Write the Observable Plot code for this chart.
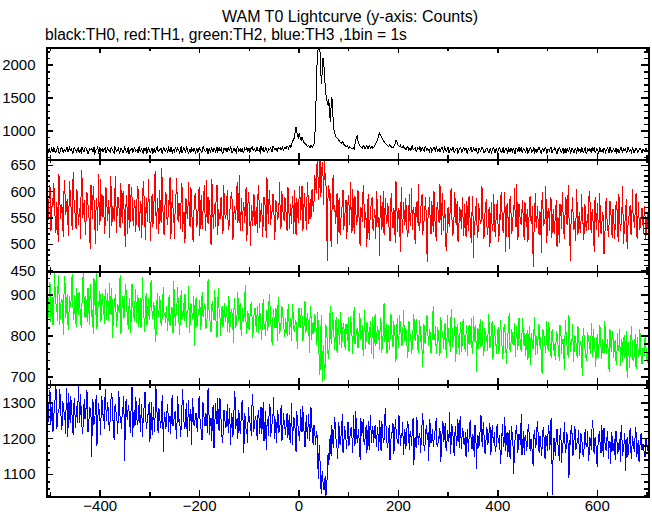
<!DOCTYPE html>
<html><head><meta charset="utf-8">
<script src="https://cdn.jsdelivr.net/npm/d3@7"></script>
<script src="https://cdn.jsdelivr.net/npm/@observablehq/plot@0.6"></script>
<style>
body{margin:0;background:#fff;color:#000;}
#chart{position:relative;width:652px;height:515px;font-family:"Liberation Sans",Arial,sans-serif;overflow:hidden;}
.ttl{position:absolute;white-space:nowrap;line-height:16px;}
.panel{position:absolute;left:0;}
</style></head><body>
<div id="chart">
<div class="ttl" style="left:0;width:700px;text-align:center;top:9px;font-size:16px;">WAM T0 Lightcurve (y-axis: Counts)</div>
<div class="ttl" style="left:45px;top:27px;font-size:15.6px;">black:TH0, red:TH1, green:TH2, blue:TH3 ,1bin = 1s</div>
</div>
<script>
// time bins (s): first bin and spacing of the sampled values; "Mid" arrays sit half a step later
const tStart = -507, binStep = 3;
const xDomain = [-508, 703];
const xMajor = [-400, -200, 0, 200, 400, 600];
const xMinor = [-500, -300, -100, 100, 300, 500, 700];

// TH0 (black)
const th0 = [
728,671,702,754,683,719,690,763,665,712,741,677,706,733,688,769,701,659,737,714,
681,748,709,662,725,694,757,711,673,730,744,687,651,716,766,698,679,735,704,750,
668,721,693,759,708,660,739,700,747,684,718,671,764,697,729,655,712,745,686,736,
703,667,761,715,680,742,706,664,752,695,727,658,738,710,771,684,720,669,746,707,
733,676,699,755,661,721,748,689,713,666,767,702,731,678,740,657,717,753,692,734,
709,670,749,722,681,760,701,728,654,743,711,685,739,672,758,716,693,747,663,726,
744,688,712,768,674,732,705,659,751,718,690,740,677,723,757,699,668,745,713,735,
684,750,707,662,729,759,696,737,673,720,747,691,765,724,703,754,730,711,762,739,
745,772,728,786,790,860,905,1060,930,965,880,905,840,815,790,772,760,785,755,800,
1120,1980,2300,2240,1720,2110,1900,1560,1430,1480,1150,1510,1050,965,905,880,850,825,840,800,
785,770,748,762,735,742,720,870,935,810,775,752,790,730,765,745,778,740,770,752,
795,830,905,975,920,885,840,812,790,768,795,760,748,785,862,810,772,790,745,778,
748,716,765,733,702,779,725,751,694,740,770,712,738,689,761,727,700,755,678,731,
721,763,690,742,709,752,673,730,698,759,684,719,747,667,715,738,693,754,676,726,
705,744,663,717,737,682,750,695,724,660,733,708,758,671,702,741,686,728,668,747,
694,722,657,739,706,677,753,699,731,664,715,744,680,726,661,737,703,683,760,691,
719,670,735,697,746,674,712,656,731,701,751,672,721,688,742,665,727,699,757,679,
713,738,662,704,729,681,748,696,669,734,710,655,741,690,724,666,754,702,675,730,
697,745,663,716,736,678,706,759,684,725,658,740,700,671,730,709,750,668,723,687,
739,694,660,727,705,753,673,718,734,682,746,701,664,725,693,743,677,720,736,670,
712,688,731,699];
const th0Mid = [
695,742,668,721,757,679,710,733,662,748,700,726,684,761,692,715,739,670,754,703,
731,676,719,763,689,745,706,660,737,712,685,758,698,727,666,749,718,690,741,674,
752,708,680,734,697,766,687,723,661,744,714,691,736,671,759,704,729,678,747,693,
725,750,686,738,663,712,756,694,731,679,745,707,667,753,699,720,740,657,734,689,
716,762,683,741,706,672,730,751,697,722,674,746,710,764,688,727,679,705,743,665,
736,698,726,675,752,710,687,741,719,668,757,695,732,704,681,748,722,660,739,709,
686,754,699,728,671,745,716,762,690,733,705,678,750,712,694,740,727,765,701,719,
748,695,733,771,714,688,752,706,740,727,699,768,716,741,685,729,758,736,710,753,
730,761,777,752,835,880,1010,980,890,920,860,870,825,798,765,788,748,770,782,880,
1560,2180,2290,1950,1880,2050,1700,1480,1390,1250,1380,1420,1010,930,890,865,835,810,828,790,
760,775,740,752,728,758,800,905,850,790,760,740,772,748,780,735,758,762,738,770,
812,868,940,952,900,860,825,805,775,782,770,752,768,820,845,790,765,752,770,740,
731,760,702,745,772,716,739,690,757,725,698,748,719,767,706,733,681,744,728,762,
697,737,714,681,750,722,764,703,729,671,740,708,756,694,733,665,721,747,689,754,
725,679,739,702,758,687,716,743,664,731,697,752,710,683,745,719,676,738,706,759,
673,734,711,750,688,727,665,741,703,755,684,720,736,669,747,693,757,714,678,739,
700,745,661,718,733,690,757,707,676,742,718,663,738,709,754,681,716,740,672,729,
749,684,723,758,697,712,666,738,725,686,751,703,734,671,744,716,688,731,752,680,
726,660,741,703,689,752,718,677,735,696,748,683,721,743,668,731,700,756,679,714,
686,747,722,668,736,697,742,710,675,751,689,729,754,673,718,736,684,745,702,726,
691,738,706,720];

// TH1 (red)
const th1 = [
585,548,612,530,571,598,522,560,634,549,577,515,603,566,541,620,579,528,591,556,
604,537,569,640,551,583,519,597,562,492,575,610,544,588,526,566,623,553,580,539,
596,561,513,607,572,545,629,558,586,531,570,601,548,579,520,615,563,590,536,574,
555,611,527,582,568,596,509,563,624,547,578,533,600,559,587,521,571,644,552,566,
592,538,575,512,603,557,581,626,543,569,598,524,561,587,549,617,533,576,506,590,
562,545,608,573,529,586,553,622,540,571,500,594,558,535,613,567,548,589,521,576,
553,603,532,570,595,518,562,584,541,631,556,527,579,566,507,599,547,574,536,592,
560,523,611,549,578,541,587,514,569,602,538,563,591,528,575,551,618,534,567,545,
582,526,598,557,539,574,603,518,566,589,547,610,535,572,528,596,561,548,605,577,
620,650,585,672,606,640,668,625,470,612,596,548,630,575,561,502,588,543,574,529,
566,511,593,537,552,604,520,571,545,586,498,559,612,533,548,577,509,566,590,527,
555,601,538,480,572,546,519,588,543,564,506,597,531,558,620,524,569,487,551,580,
537,562,515,594,549,528,571,502,556,613,533,575,519,547,590,468,561,538,582,524,
553,508,579,541,564,597,526,550,489,571,535,606,518,558,544,582,505,567,531,548,
576,514,552,592,529,563,476,545,588,521,557,539,603,511,566,534,550,496,579,527,
560,541,584,506,548,571,523,598,535,553,492,575,529,561,544,614,517,556,538,583,
510,549,566,527,591,540,458,563,532,572,518,555,599,536,549,503,568,527,585,542,
521,559,495,547,576,530,563,511,589,538,553,470,566,528,545,604,519,561,535,550,
509,572,541,528,595,522,556,487,549,578,516,562,537,553,500,588,531,546,570,513,
558,534,581,505,552,540,610,524,563,492,547,575,519,556,533,598,511,548,537,569,
521,554,540,530];
const th1Mid = [
551,603,527,588,615,540,579,506,596,563,534,621,557,586,518,600,545,637,566,529,
590,555,511,626,568,543,599,575,530,613,549,587,502,570,632,537,562,594,520,608,
545,583,628,536,566,601,523,590,556,616,542,574,497,593,561,533,609,549,584,525,
598,539,572,514,620,553,587,544,578,507,595,562,638,531,567,602,541,575,518,599,
546,583,627,537,569,511,594,552,578,530,616,559,503,585,568,540,609,525,561,596,
534,578,517,593,556,612,527,570,589,548,624,531,575,602,519,556,586,540,611,550,
583,528,566,598,509,573,547,617,560,526,588,569,541,608,551,580,498,563,594,536,
571,597,532,566,515,590,555,627,539,578,561,596,510,583,547,572,530,601,556,589,
544,609,531,576,592,520,565,588,541,610,574,526,596,553,617,540,585,602,563,631,
598,666,612,590,655,575,630,548,605,584,495,621,562,540,598,576,519,565,603,548,
584,549,575,617,522,563,591,537,603,512,570,544,586,560,497,595,541,578,531,567,
512,574,552,593,529,601,560,539,578,520,583,546,569,503,590,556,537,608,523,561,
588,521,554,536,606,563,515,580,541,527,569,596,542,575,508,553,589,520,559,601,
531,570,545,614,519,558,583,496,562,540,587,552,521,598,537,507,571,549,590,516,
547,582,527,560,503,591,538,566,514,578,542,610,530,555,585,518,571,544,529,594,
515,569,532,557,599,528,564,487,578,546,591,521,553,606,534,509,576,543,567,524,
581,534,506,588,545,572,517,596,551,527,563,485,574,542,611,526,558,590,514,566,
539,583,552,504,567,598,526,574,541,612,518,562,589,531,507,576,548,523,594,538,
575,527,556,601,537,566,513,590,529,545,597,521,560,483,572,549,515,582,536,567,
511,573,548,595,526,563,502,541,586,534,559,520,604,545,571,516,580,529,561,543,
573,512,559,538];

// TH2 (green)
const th2 = [
902,845,931,868,826,955,879,838,912,857,890,803,944,866,829,897,872,950,841,884,
915,852,876,821,938,863,897,834,870,925,848,805,889,957,859,877,836,904,868,913,
841,882,929,852,796,874,901,838,866,947,822,889,857,911,843,873,808,926,861,885,
834,900,866,819,943,848,877,825,892,859,936,841,870,787,904,853,882,829,918,856,
873,814,898,845,867,932,826,859,881,803,911,850,838,889,862,920,831,871,845,776,
894,836,858,815,907,847,872,826,939,851,809,883,838,861,797,915,844,866,823,878,
851,812,896,836,859,784,873,828,905,845,818,867,834,922,806,853,839,881,797,862,
830,871,808,845,792,889,826,851,813,902,838,779,864,820,847,895,806,833,858,815,
842,801,876,823,790,857,812,834,769,868,821,848,796,884,815,839,761,853,827,805,
842,778,816,705,850,760,693,828,790,745,872,801,823,768,846,812,779,857,794,830,
766,812,845,781,827,757,869,795,818,774,840,803,752,861,788,821,779,836,800,746,
854,791,813,768,833,786,880,802,759,825,794,847,773,810,738,842,797,819,776,862,
785,811,748,830,796,772,853,789,814,760,837,801,726,824,793,846,777,808,768,873,
796,757,822,781,845,804,770,831,748,812,789,866,775,801,739,828,793,815,762,840,
781,808,753,826,791,769,847,786,714,819,798,774,835,760,803,788,852,771,811,745,
826,779,801,757,838,784,766,815,733,797,856,772,808,788,749,823,780,805,763,842,
776,752,814,789,731,806,770,845,782,757,822,796,709,811,773,836,764,790,748,817,
781,742,805,769,827,758,793,718,812,775,850,763,788,737,801,770,824,752,786,704,
809,765,740,797,772,831,750,783,726,804,761,818,745,779,835,757,792,713,777,810,
748,789,731,771,815,756,738,802,764,699,785,751,823,740,774,719,796,758,781,733,
769,797,745,760];
const th2Mid = [
861,917,835,893,852,908,874,947,829,885,862,923,846,901,815,879,934,857,898,823,
874,907,838,883,954,846,871,916,829,892,861,940,853,818,884,909,842,877,831,896,
903,837,868,915,848,889,824,877,858,806,897,843,926,864,819,891,848,875,838,913,
863,822,891,848,874,812,903,857,839,926,846,881,810,868,847,895,826,877,852,833,
842,889,825,869,807,884,852,919,833,864,840,878,901,823,857,809,879,842,896,861,
822,865,887,832,851,880,818,853,868,829,876,849,912,826,883,845,801,871,852,834,
873,838,809,865,842,891,820,856,837,879,802,852,891,826,860,814,874,845,829,868,
812,848,880,817,856,829,801,864,834,876,809,845,823,868,789,840,818,872,836,799,
829,861,804,842,877,816,838,795,851,823,866,788,839,809,856,826,873,791,834,852,
812,858,740,798,689,776,727,805,752,836,781,858,796,831,760,841,805,772,823,787,
829,789,763,848,802,835,780,813,771,856,792,825,804,769,834,797,818,758,845,810,
777,823,798,842,760,809,787,828,811,768,853,782,836,795,820,772,849,803,789,818,
819,768,836,802,757,821,795,840,773,808,786,763,829,780,851,799,816,758,834,791,
823,779,803,752,833,797,819,768,851,785,762,827,798,843,771,806,754,832,788,811,
762,825,796,778,842,757,810,826,793,770,841,787,753,818,799,764,828,792,836,779,
794,758,820,787,811,746,829,797,772,839,761,815,779,830,797,766,843,771,807,785,
806,785,741,824,793,769,812,754,798,829,777,742,816,790,760,801,833,779,811,765,
756,812,783,739,820,791,760,837,779,748,804,782,829,766,795,747,810,784,741,818,
772,743,809,783,757,798,815,762,787,746,826,772,791,758,805,779,734,816,763,795,
779,741,806,764,729,793,772,748,811,782,723,796,765,742,804,776,751,817,737,770,
752,783,736,771];

// TH3 (blue)
const th3 = [
1301,1248,1335,1262,1219,1288,1350,1241,1276,1312,1225,1295,1259,1340,1207,1283,1317,1254,1297,1232,
1290,1346,1245,1272,1213,1309,1261,1328,1236,1284,1150,1300,1257,1322,1243,1279,1211,1305,1266,1338,
1250,1286,1224,1317,1271,1198,1295,1248,1332,1261,1229,1288,1140,1309,1254,1276,1217,1343,1266,1236,
1291,1245,1313,1262,1205,1280,1327,1239,1268,1191,1302,1256,1221,1348,1250,1284,1232,1299,1163,1273,
1238,1296,1261,1214,1320,1247,1275,1199,1289,1255,1231,1338,1242,1268,1206,1306,1257,1183,1284,1236,
1272,1220,1318,1249,1196,1288,1235,1263,1340,1212,1257,1281,1173,1298,1241,1226,1312,1250,1207,1276,
1229,1295,1252,1184,1270,1218,1331,1243,1201,1265,1238,1306,1160,1259,1222,1287,1245,1210,1322,1233,
1262,1197,1278,1239,1215,1301,1226,1170,1254,1283,1207,1243,1316,1220,1188,1266,1231,1293,1202,1249,
1213,1272,1236,1190,1298,1225,1254,1162,1241,1207,1280,1218,1245,1176,1264,1231,1196,1287,1210,1238,
1185,1220,1090,1150,1048,1085,1060,1042,1120,1128,1210,1238,1176,1259,1193,1145,1227,1204,1268,1181,
1219,1172,1246,1198,1231,1160,1212,1277,1189,1226,1143,1208,1253,1184,1236,1201,1168,1264,1215,1190,
1237,1179,1211,1250,1165,1224,1196,1283,1187,1218,1141,1206,1244,1175,1229,1198,1266,1182,1213,1157,
1225,1190,1248,1171,1209,1233,1128,1203,1259,1184,1216,1195,1271,1166,1222,1198,1140,1240,1205,1179,
1214,1256,1177,1200,1135,1228,1191,1244,1168,1210,1273,1186,1219,1153,1235,1197,1207,1262,1174,1221,
1183,1149,1226,1202,1250,1171,1196,1237,1118,1209,1188,1266,1177,1215,1159,1231,1195,1243,1170,1205,
1218,1164,1240,1189,1131,1207,1178,1258,1193,1150,1224,1181,1212,1104,1199,1236,1172,1203,1268,1185,
1156,1210,1179,1241,1167,1193,1126,1222,1185,1249,1161,1204,1175,1232,1143,1196,1218,1170,1257,1045,
1201,1152,1228,1176,1210,1133,1189,1244,1168,1207,1092,1183,1220,1158,1235,1174,1199,1146,1215,1187,
1163,1226,1180,1139,1205,1171,1252,1158,1193,1121,1212,1176,1236,1150,1198,1167,1221,1185,1130,1203,
1179,1142,1216,1164,1197,1238,1153,1186,1110,1204,1172,1229,1145,1191,1163,1217,1180,1135,1208,1168,
1185,1150,1196,1172];
const th3Mid = [
1268,1322,1240,1297,1259,1314,1228,1281,1338,1250,1303,1270,1215,1292,1326,1246,1278,1210,1311,1263,
1245,1299,1323,1231,1276,1254,1333,1219,1288,1264,1309,1239,1276,1180,1297,1252,1319,1268,1228,1285,
1302,1242,1270,1326,1233,1289,1260,1214,1306,1248,1283,1319,1226,1265,1293,1241,1304,1207,1279,1315,
1238,1283,1219,1296,1255,1329,1227,1268,1302,1242,1210,1287,1263,1301,1218,1272,1245,1321,1254,1227,
1281,1219,1263,1302,1236,1271,1225,1318,1246,1205,1290,1264,1228,1299,1253,1222,1281,1311,1240,1267,
1232,1289,1255,1210,1301,1240,1271,1218,1286,1251,1196,1293,1235,1268,1312,1222,1257,1189,1280,1241,
1262,1218,1284,1243,1205,1295,1228,1256,1279,1213,1300,1245,1271,1224,1190,1262,1237,1298,1219,1254,
1225,1268,1214,1289,1246,1193,1275,1238,1209,1297,1231,1262,1201,1255,1280,1217,1248,1196,1271,1229,
1250,1202,1265,1228,1185,1259,1217,1276,1233,1194,1252,1290,1209,1238,1201,1268,1225,1244,1183,1226,
1208,1140,1180,1070,1110,1058,1095,1045,1160,1185,1152,1196,1230,1208,1172,1246,1183,1218,1160,1235,
1196,1244,1181,1223,1205,1266,1179,1232,1209,1170,1256,1224,1193,1217,1162,1248,1227,1190,1235,1210,
1205,1232,1168,1219,1248,1190,1263,1210,1174,1236,1197,1222,1158,1254,1201,1185,1230,1207,1246,1192,
1172,1238,1206,1221,1181,1257,1199,1174,1228,1211,1162,1243,1205,1183,1236,1217,1254,1188,1226,1196,
1236,1182,1207,1230,1167,1249,1203,1176,1222,1191,1160,1239,1198,1215,1182,1254,1176,1211,1229,1188,
1217,1196,1165,1243,1180,1211,1151,1227,1193,1174,1232,1201,1244,1163,1208,1185,1220,1156,1237,1190,
1170,1229,1196,1208,1159,1241,1189,1166,1218,1200,1145,1233,1179,1192,1226,1162,1214,1183,1155,1221,
1205,1168,1226,1185,1199,1147,1213,1176,1230,1190,1206,1152,1221,1181,1209,1166,1238,1192,1163,1201,
1169,1214,1187,1140,1229,1175,1203,1161,1218,1180,1195,1237,1154,1206,1171,1190,1224,1162,1197,1150,
1208,1177,1221,1158,1190,1233,1169,1204,1147,1186,1219,1160,1195,1230,1172,1205,1144,1193,1216,1166,
1198,1221,1159,1188,1137,1203,1176,1215,1181,1150,1196,1163,1207,1175,1232,1149,1194,1170,1214,1183,
1157,1201,1166,1190];

// y-axis tick labels per panel
const labels0 = [1000, 1500, 2000];
const labels1 = [450, 500, 550, 600, 650];
const labels2 = [700, 800, 900];
const labels3 = [1100, 1200, 1300];

const panels = [
  {values: th0, mids: th0Mid, color: "#000000", domain: [570, 2268], labels: labels0, minor: 100, top: 47, h: 112},
  {values: th1, mids: th1Mid, color: "#ff0000", domain: [449, 661], labels: labels1, minor: 10, top: 159, h: 112},
  {values: th2, mids: th2Mid, color: "#00ff00", domain: [682, 957], labels: labels2, minor: 20, top: 271, h: 113},
  {values: th3, mids: th3Mid, color: "#0000ff", domain: [1039, 1351], labels: labels3, minor: 20, top: 384, h: 112}
];

const W = 652, ML = 46, MR = 4, FW = W - ML - MR;
const fmt = d => d < 0 ? "\u2212" + (-d) : String(d);
const chart = document.getElementById("chart");

panels.forEach((p, i) => {
  const last = i === panels.length - 1;
  const mb = last ? 19 : 0;
  const data = p.values.map((v, k) => ({t: tStart + binStep * k, v}))
    .concat(p.mids.map((v, k) => ({t: tStart + binStep / 2 + binStep * k, v})))
    .sort((a, b) => a.t - b.t);
  const minorVals = d3.range(Math.ceil(p.domain[0] / p.minor) * p.minor, p.domain[1] + 0.001, p.minor)
    .filter(v => !p.labels.includes(v));
  const tick = {stroke: "black", strokeWidth: 1.5, shapeRendering: "crispEdges"};
  const marks = [
    Plot.lineY(data, {x: "t", y: "v", stroke: p.color, strokeWidth: 1, clip: true, shapeRendering: "crispEdges"}),
    Plot.frame({stroke: "black", strokeWidth: 2, shapeRendering: "crispEdges"}),
    Plot.tickY(p.labels, {y: d => d, ...tick, insetRight: FW - 7}),
    Plot.tickY(p.labels, {y: d => d, ...tick, insetLeft: FW - 7}),
    Plot.tickY(minorVals, {y: d => d, ...tick, insetRight: FW - 4}),
    Plot.tickY(minorVals, {y: d => d, ...tick, insetLeft: FW - 4}),
    Plot.tickX(xMajor, {x: d => d, ...tick, insetBottom: p.h - 6}),
    Plot.tickX(xMajor, {x: d => d, ...tick, insetTop: p.h - 6}),
    Plot.tickX(xMinor, {x: d => d, ...tick, insetBottom: p.h - 4}),
    Plot.tickX(xMinor, {x: d => d, ...tick, insetTop: p.h - 4}),
    Plot.axisY(p.labels, {tickSize: 0, tickPadding: 11, tickFormat: fmt, fontSize: 15, fill: "black", label: null})
  ];
  if (last) marks.push(Plot.axisX(xMajor, {tickSize: 0, tickPadding: 4, tickFormat: fmt, fontSize: 15, fill: "black", label: null}));
  const svg = Plot.plot({
    width: W, height: p.h + mb,
    marginLeft: ML, marginRight: MR, marginTop: 0, marginBottom: mb,
    style: {background: "transparent", overflow: "visible", fontFamily: "'Liberation Sans', Arial, sans-serif", fontSize: "15px", color: "black"},
    x: {domain: xDomain, axis: last ? undefined : null, label: null},
    y: {domain: p.domain, label: null},
    marks
  });
  const wrap = document.createElement("div");
  wrap.className = "panel";
  wrap.style.top = p.top + "px";
  wrap.appendChild(svg);
  chart.appendChild(wrap);
});
</script>
</body></html>
